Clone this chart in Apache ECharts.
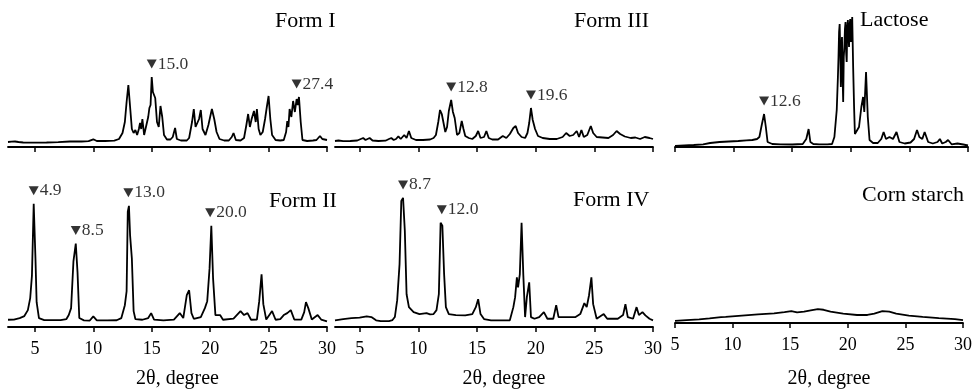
<!DOCTYPE html>
<html><head><meta charset="utf-8">
<script src="https://cdn.jsdelivr.net/npm/echarts@6/dist/echarts.min.js"></script>
<style>html,body{margin:0;padding:0;background:#fff}#c{width:975px;height:390px}</style>
</head><body><div id="c"></div>
<script>
// ---- data: [2theta (degree), intensity (a.u.)] ----
const formI = [[2.7,5],[3.0,5.3],[3.3,5.5],[3.6,5],[4,4.5],[5,4.3],[6,4.5],[7,4.8],[8,5.5],[9,5.5],[9.6,5.8],[10,7.7],[10.3,6],[11,6],[11.8,6.3],[12.2,8],[12.5,14],[12.7,25],[12.85,45],[13.0,62],[13.15,40],[13.3,18],[13.45,14],[13.6,17],[13.75,12],[13.9,18],[14.0,24],[14.1,18],[14.2,28],[14.35,12],[14.5,14],[14.7,30],[14.8,39],[14.9,42],[15.0,70],[15.1,55],[15.3,49],[15.45,25],[15.6,20],[15.75,41],[15.9,30],[16.05,12],[16.3,7.5],[16.6,7.5],[16.8,10],[17.0,19],[17.15,8],[17.5,6.5],[18.0,6.5],[18.2,9],[18.45,25],[18.6,38],[18.75,20],[18.9,18],[19.05,28],[19.2,37],[19.35,18],[19.6,12],[19.85,22],[20.0,30],[20.15,38],[20.35,28],[20.55,15],[20.8,8],[21.2,6.5],[21.6,6.5],[21.85,10],[22.0,14],[22.2,7],[22.6,6.5],[22.9,9],[23.1,22],[23.25,33],[23.4,20],[23.55,28],[23.75,36],[23.9,25],[24.0,38],[24.15,18],[24.3,12],[24.5,15],[24.7,28],[24.85,40],[25.0,51],[25.15,28],[25.3,12],[25.6,7],[26.0,6.5],[26.3,7],[26.5,15],[26.6,26],[26.7,20],[26.8,38],[26.95,30],[27.1,46],[27.25,35],[27.4,48],[27.5,42],[27.6,50],[27.75,25],[27.9,7],[28.3,6],[28.8,6.5],[29.1,7],[29.4,11],[29.6,8],[30,7]];
const formIII = [[2.9,6],[3.2,6.5],[3.6,5.8],[4.2,6],[4.8,6.5],[5.1,8],[5.3,9],[5.5,7],[5.85,9],[6.1,6.5],[6.6,6],[7.2,6.3],[7.5,8],[7.7,9],[7.9,7],[8.1,8],[8.3,10.7],[8.5,8],[8.8,12],[9.0,9],[9.2,16],[9.4,9],[9.8,7],[10.4,7],[11,7.5],[11.3,9],[11.5,12],[11.7,25],[11.85,37],[12.0,33],[12.15,32],[12.3,15],[12.45,20],[12.6,36],[12.8,47],[12.95,35],[13.1,29],[13.3,12],[13.5,14],[13.7,26],[13.85,18],[14.0,11],[14.3,9],[14.6,8],[14.9,11],[15.1,16],[15.3,9],[15.6,10],[15.8,16],[16.0,9],[16.3,7.5],[16.8,7.5],[17.2,11],[17.5,9],[17.8,13],[18.1,19],[18.3,21],[18.5,14],[18.8,10],[19.1,9],[19.3,14],[19.45,24],[19.6,39],[19.75,27],[19.95,18],[20.2,11],[20.6,9],[21.2,8],[21.8,8],[22.3,10],[22.6,14],[22.9,11],[23.2,12],[23.5,16],[23.7,10],[23.9,17],[24.1,10],[24.4,12],[24.7,21],[24.9,14],[25.2,10],[25.7,9.5],[26.2,9],[26.6,12],[26.9,16],[27.2,13],[27.6,10.5],[28.1,9],[28.5,9.5],[28.9,8],[29.3,10],[29.7,9],[30,8]];
const lactose = [[5.0,1],[5.8,1.5],[6.6,2],[7.4,2.7],[8.0,4],[8.8,5],[9.6,5.5],[10.4,6],[11.1,6.7],[11.6,7],[12.0,8],[12.2,10],[12.4,22],[12.6,33],[12.75,20],[12.9,5],[13.3,3],[14,2.7],[15,2.5],[15.9,3],[16.2,8],[16.4,18],[16.55,5],[16.8,3],[17.3,2.7],[18.0,2.7],[18.4,3],[18.6,10],[18.8,37],[18.9,70],[18.95,90],[19.0,115],[19.05,123],[19.1,95],[19.15,60],[19.2,100],[19.25,110],[19.3,70],[19.35,45],[19.4,90],[19.45,100],[19.5,118],[19.55,125],[19.6,95],[19.65,85],[19.7,120],[19.75,127],[19.8,112],[19.85,100],[19.9,122],[19.95,128],[20.0,105],[20.05,110],[20.12,130],[20.2,80],[20.28,40],[20.35,13],[20.5,15],[20.7,20],[20.9,40],[21.05,50],[21.15,35],[21.3,75],[21.45,30],[21.6,7],[21.9,4],[22.3,4],[22.6,8],[22.8,15],[23.0,8],[23.3,10],[23.6,8],[23.9,15],[24.15,5],[24.6,3.5],[25.1,4.5],[25.4,8],[25.65,17],[25.85,10],[26.1,8],[26.3,15],[26.6,5],[27.0,3.5],[27.4,5],[27.6,8],[27.8,3.5],[28.1,5],[28.3,7],[28.6,2.7],[29.1,3.5],[29.6,2.5],[30,1.5]];
const formII = [[2.7,7.3],[3.2,7.5],[3.7,9],[4.1,11],[4.4,17],[4.6,29],[4.75,52],[4.9,124],[5.05,69],[5.15,25],[5.35,9],[5.8,7],[6.5,7],[7.2,7],[7.7,8],[7.9,12],[8.1,19],[8.3,66],[8.5,84],[8.65,55],[8.8,9],[9.2,6.7],[9.7,6.5],[10.0,10.7],[10.3,6.7],[11.2,6.7],[12.0,6.8],[12.4,9],[12.7,22],[12.85,36],[12.95,116],[13.05,122],[13.15,92],[13.3,69],[13.45,16],[13.6,8],[14.2,7.3],[14.7,9],[14.95,14],[15.2,7.5],[16,6.7],[16.9,7.5],[17.4,14],[17.7,9],[18.0,32],[18.2,37],[18.4,14],[18.6,8.3],[19.2,10],[19.55,19],[19.75,26],[19.95,59],[20.1,102],[20.25,49],[20.45,12],[20.85,12],[21.1,7.3],[22.0,8.5],[22.6,16],[22.9,12],[23.2,14],[23.5,7.3],[24.0,7.5],[24.2,26],[24.4,53],[24.55,23],[24.8,7.5],[25.3,16],[25.6,7.3],[26.0,8],[26.3,12],[26.6,14],[26.9,17],[27.2,7.5],[27.8,7.5],[28.05,15],[28.2,25],[28.4,19],[28.7,7.5],[29.2,12],[29.5,7.5],[30,5.7]];
const formIV = [[2.9,6.7],[3.6,8],[4.3,9],[5.0,9.5],[5.6,10.7],[6.0,10],[6.4,6.7],[6.8,6],[7.5,6],[7.8,7],[8.0,10],[8.2,27],[8.4,63],[8.55,127],[8.7,130],[8.85,97],[9.0,33],[9.2,20],[9.6,15],[10.1,13],[10.7,14],[11.0,12.7],[11.3,13],[11.55,17],[11.75,33],[11.9,105],[12.05,102],[12.2,53],[12.35,20],[12.6,13],[13.2,12],[14.0,11.7],[14.6,13],[14.9,20],[15.1,28],[15.3,13],[15.6,8],[16.2,6.7],[17.0,6.7],[17.8,6.7],[18.1,20],[18.25,30],[18.4,50],[18.5,40],[18.65,53],[18.8,105],[18.95,52],[19.1,10],[19.25,30],[19.45,45],[19.6,10],[19.9,8.3],[20.3,10],[20.7,15],[21.0,8.3],[21.5,8.3],[21.75,22],[21.95,10],[22.6,10],[23.4,10],[23.8,13],[24.15,24],[24.35,20],[24.55,32],[24.75,50],[24.9,23],[25.2,8.3],[25.8,13],[26.1,8.3],[27.0,8.3],[27.45,12],[27.65,23],[27.85,10],[28.3,8.3],[28.6,20],[28.8,12],[29.1,15],[29.35,11.7],[29.7,8.3],[30,6.7]];
const cornStarch = [[5.0,2.3],[6.0,3],[7.1,3.7],[8.0,4.7],[9.0,6],[9.4,6.3],[10.8,7.7],[12.2,9],[13.6,10],[14.5,11.3],[15.1,12.3],[15.6,11],[16.2,11.7],[16.9,13.3],[17.4,14.3],[17.9,13.7],[18.5,11.7],[19.6,9.7],[20.8,8.3],[21.7,8.3],[22.3,9.7],[23.0,12.3],[23.6,11.7],[24.2,9.7],[25.3,7.7],[26.5,6.3],[27.9,5],[29.3,4],[30,3]];

// labelled peaks (2theta)
const peaksFormI = [15.0, 27.4];
const peaksFormIII = [12.8, 19.6];
const peaksLactose = [12.6];
const peaksFormII = [4.9, 8.5, 13.0, 20.0];
const peaksFormIV = [8.7, 12.0];
const peaksCorn = [];

const panelNames = ['Form I', 'Form III', 'Lactose', 'Form II', 'Form IV', 'Corn starch'];
const tickValues = [5, 10, 15, 20, 25, 30];
const axisTitle = '2θ, degree';

// ---- layout ----
const FONT = '"Liberation Serif", "Times New Roman", serif';
const panels = [
  {data: formI, peaks: peaksFormI, min: 2.7, grid: {left: 8, width: 319, top: 10, height: 137}, ymax: 137, bottom: false, title: [275, 21]},
  {data: formIII, peaks: peaksFormIII, min: 2.9, grid: {left: 335, width: 318, top: 10, height: 137}, ymax: 137, bottom: false, title: [574, 21]},
  {data: lactose, peaks: peaksLactose, min: 5, grid: {left: 675, width: 293, top: 10, height: 137}, ymax: 137, bottom: false, title: [860, 20]},
  {data: formII, peaks: peaksFormII, min: 2.7, grid: {left: 8, width: 319, top: 180, height: 148}, ymax: 148, bottom: true, title: [269, 201], nameGap: 42},
  {data: formIV, peaks: peaksFormIV, min: 2.9, grid: {left: 335, width: 318, top: 180, height: 148}, ymax: 148, bottom: true, title: [573, 200], nameGap: 42},
  {data: cornStarch, peaks: peaksCorn, min: 5, grid: {left: 675, width: 293, top: 180, height: 148}, ymax: 148, bottom: true, title: [862, 195], nameGap: 46}
];

function peakHeight(data, x) {
  let m = 0;
  data.forEach(p => { if (Math.abs(p[0] - x) <= 0.35 && p[1] > m) m = p[1]; });
  return m;
}

const grid = [], xAxis = [], yAxis = [], series = [], graphic = [];
panels.forEach((p, i) => {
  grid.push(Object.assign({containLabel: false}, p.grid));
  xAxis.push({
    type: 'value', gridIndex: i, min: p.min, max: 30,
    axisLine: {show: true, onZero: false, lineStyle: {color: '#000', width: 1.8}},
    axisTick: {show: true, inside: false, length: 5, customValues: tickValues, lineStyle: {color: '#000', width: 1.5}},
    axisLabel: {show: p.bottom, customValues: tickValues, color: '#000', fontFamily: FONT, fontSize: 18, margin: 13},
    splitLine: {show: false},
    name: p.bottom ? axisTitle : '', nameLocation: 'middle', nameGap: p.nameGap || 40,
    nameTextStyle: {color: '#000', fontFamily: FONT, fontSize: 20, padding: [0, 0, 0, 20]}
  });
  yAxis.push({type: 'value', gridIndex: i, min: 0, max: p.ymax, show: false, splitLine: {show: false}});
  series.push({
    type: 'line', xAxisIndex: i, yAxisIndex: i, data: p.data, showSymbol: false, symbol: 'none',
    lineStyle: {color: '#000', width: 1.8}, silent: true
  });
  if (p.peaks.length) {
    series.push({
      type: 'scatter', xAxisIndex: i, yAxisIndex: i,
      data: p.peaks.map(x => [x, peakHeight(p.data, x)]),
      symbol: 'triangle', symbolRotate: 180, symbolSize: [10, 9], symbolOffset: [0, -13],
      itemStyle: {color: '#000'},
      label: {show: true, position: 'right', distance: 1, color: '#000', fontFamily: FONT, fontSize: 17.5,
        formatter: d => d.value[0].toFixed(1)},
      silent: true
    });
  }
  graphic.push({
    type: 'text', x: p.title[0], y: p.title[1],
    style: {text: panelNames[i], fill: '#000', font: '22px ' + FONT, verticalAlign: 'middle', align: 'left'}
  });
});

const chart = echarts.init(document.getElementById('c'), null, {renderer: 'canvas'});
chart.setOption({animation: false, backgroundColor: '#fff', grid, xAxis, yAxis, series, graphic});
</script>
</body></html>
